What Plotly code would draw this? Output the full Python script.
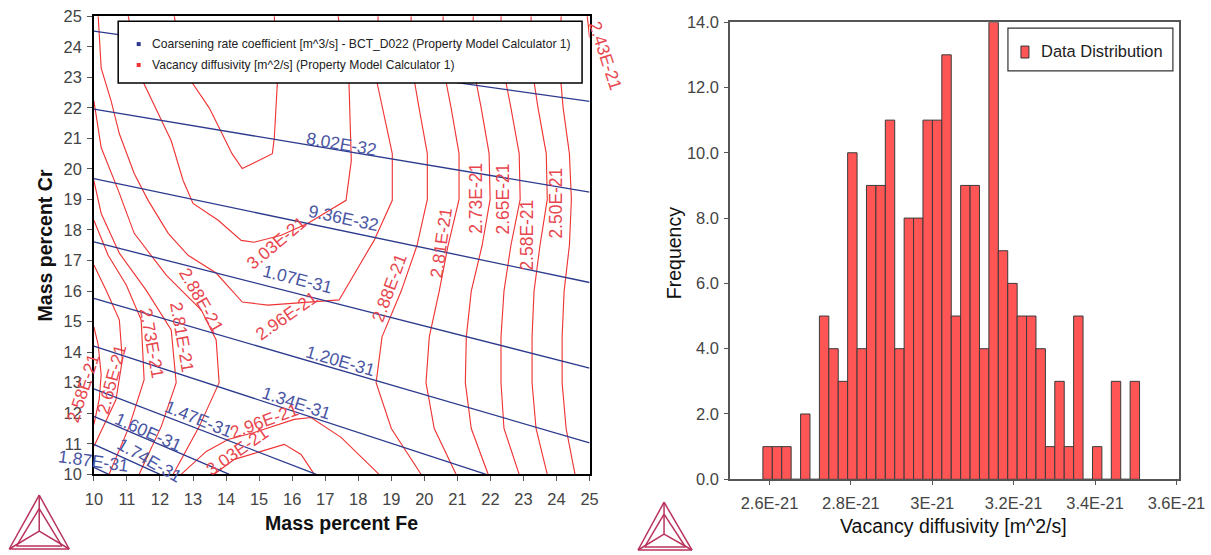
import plotly.graph_objects as go

# ---------------- DATA ----------------
# Left panel: Fe (x) vs Cr (y), mass percent
mass_ticks = list(range(10, 26))

# Coarsening rate coefficient contours [m^3/s] (blue)
b668_fe, b668_cr = [10, 25], [24.51, 22.21]
b802_fe, b802_cr = [10, 25], [21.96, 19.24]
b936_fe, b936_cr = [10, 25], [19.68, 16.28]
b107_fe, b107_cr = [10, 25], [17.61, 13.48]
b120_fe, b120_cr = [10, 25], [15.76, 11.03]
b134_fe, b134_cr = [10, 21.87], [14.20, 10.0]
b147_fe, b147_cr = [10, 16.73], [12.80, 10.0]
b160_fe, b160_cr = [10, 14.10], [11.90, 10.0]
b174_fe, b174_cr = [10, 12.00], [10.98, 10.0]
b187_fe, b187_cr = [10, 10.45], [10.23, 10.0]

# Vacancy diffusivity contours [m^2/s] (red)
grid_cr = [25, 23.5, 22, 20.5, 19, 17.5, 16, 14.5, 13, 11.5, 10]
r243_fe, r243_cr = [24.93, 25.0], [25.0, 24.3]
r250_fe = [24.14, 24.08, 24.20, 24.39, 24.45, 24.39, 24.23, 24.17, 24.17, 24.29, 24.56]
r258_fe = [23.23, 23.23, 23.44, 23.69, 23.72, 23.50, 23.32, 23.26, 23.26, 23.38, 23.72]
r265_fe = [22.32, 22.35, 22.62, 22.87, 22.90, 22.62, 22.41, 22.32, 22.32, 22.41, 22.87]
r273_fe = [21.48, 21.45, 21.72, 21.96, 21.99, 21.75, 21.42, 21.27, 21.24, 21.42, 21.93]
r281_fe = [20.57, 20.54, 20.81, 21.05, 21.05, 20.72, 20.45, 20.15, 20.05, 20.30, 20.96]
r288r_fe = [19.60, 19.60, 19.84, 20.09, 20.09, 19.78, 19.30, 18.72, 18.54, 19.00, 19.90]

r288l_fe = [10.0, 10.22, 10.74, 11.22, 12.19, 13.25, 13.70, 13.79, 13.19, 12.40]
r288l_cr = [22.23, 20.70, 19.29, 17.89, 16.52, 15.38, 14.40, 13.0, 11.57, 10.0]
r281l_fe = [10.0, 10.22, 10.77, 11.58, 12.34, 12.49, 12.04, 11.37]
r281l_cr = [19.62, 18.54, 17.24, 16.03, 14.73, 13.0, 11.57, 10.0]
r273l_fe = [10.0, 10.43, 10.98, 11.43, 11.52, 11.07, 10.46]
r273l_cr = [18.32, 17.17, 16.20, 15.06, 13.10, 11.57, 10.0]
r265l_fe = [10.0, 10.37, 10.77, 10.86, 10.67, 10.0]
r265l_cr = [16.85, 16.03, 15.06, 13.75, 12.45, 10.91]
r258l_fe = [10.0, 10.13, 10.22, 10.16, 10.0]
r258l_cr = [14.83, 14.24, 13.26, 12.45, 11.63]

r296u_fe = [10.13, 10.22, 10.52, 10.77, 11.22, 11.64, 12.25, 12.85, 13.70, 14.49, 15.27, 16.27, 17.42, 18.48, 19.03, 19.03, 18.57, 18.60]
r296u_cr = [25.0, 23.30, 22.23, 21.15, 19.85, 18.97, 17.89, 17.17, 16.59, 15.64, 15.54, 15.61, 15.71, 17.66, 18.97, 20.50, 22.82, 25.0]
r303u_fe = [11.04, 11.22, 11.52, 11.95, 12.34, 12.70, 13.0, 13.76, 14.46, 14.85, 15.67, 16.48, 17.63, 17.79, 17.72, 17.39]
r303u_cr = [25.0, 23.96, 22.78, 21.80, 20.92, 19.62, 18.87, 18.32, 17.66, 17.60, 17.83, 18.22, 18.97, 20.27, 22.78, 25.0]
r311v_fe = [12.43, 12.64, 13.0, 13.49, 13.88, 14.18, 14.49, 15.40, 15.46, 15.55, 15.46]
r311v_cr = [25.0, 23.86, 22.78, 22.0, 21.15, 20.50, 20.01, 20.50, 21.02, 22.78, 25.0]
r296d_fe = [12.64, 13.40, 14.06, 14.85, 16.06, 16.57, 17.48, 18.63]
r296d_cr = [10.0, 10.75, 11.14, 11.37, 11.80, 11.86, 11.21, 10.0]
r303d_fe = [13.64, 14.25, 15.06, 15.76, 16.27, 16.67]
r303d_cr = [10.0, 10.49, 10.75, 10.98, 10.65, 10.0]

# Contour labels (text, Fe, Cr, angle); labels beyond the axes are anchored at the edge and shifted (px)
blue_lbl_text = ["8.02E-32", "9.36E-32", "1.07E-31", "1.20E-31", "1.34E-31", "1.47E-31", "1.60E-31", "1.74E-31", "1.87E-31"]
blue_lbl_fe = [17.49, 17.54, 16.15, 17.46, 16.12, 13.16, 11.64, 11.67, 10.01]
blue_lbl_cr = [20.83, 18.38, 16.39, 13.72, 12.35, 11.80, 11.40, 10.46, 10.43]
blue_lbl_ang = [9.6, 12, 14, 16, 18, 22, 24, 30, 8]
blue_lbl_shift = [0, 0, 0, 0, 0, 0, 0, 0, -1]

red_lbl_text = ["2.50E-21", "2.58E-21", "2.65E-21", "2.73E-21", "2.81E-21", "2.88E-21", "2.96E-21", "3.03E-21",
                "2.43E-21", "2.88E-21", "2.81E-21", "2.73E-21", "2.65E-21", "2.58E-21", "2.96E-21", "3.03E-21"]
red_lbl_fe = [23.99, 23.12, 22.38, 21.54, 20.51, 18.94, 15.82, 15.52, 24.99, 13.25, 12.67, 11.76, 10.52, 10.01, 15.15, 14.34]
red_lbl_cr = [18.87, 17.83, 19.03, 19.03, 17.57, 16.10, 15.19, 17.57, 23.70, 15.71, 14.50, 14.31, 13.10, 12.84, 11.73, 10.75]
red_lbl_ang = [-90, -90, -90, -90, -82, -70, -35, -40, 72, 60, 80, 80, -75, -72, -20, -35]
red_lbl_shift = [0, 0, 0, 0, 0, 0, 0, 0, 16, 0, 0, 0, 0, -11, 0, 0]

# Right panel: histogram of vacancy diffusivity
hist_counts = [1, 1, 1, 0, 2, 0, 5, 4, 3, 10, 4, 9, 9, 11, 4, 8, 8, 11, 11, 13,
               5, 9, 9, 4, 14, 7, 6, 5, 5, 4, 1, 3, 1, 5, 0, 1, 0, 3, 0, 3]
hist_bin_start = 2.5838e-21
hist_bin_width = 2.3138e-23
diff_tick_vals = [2.6e-21, 2.8e-21, 3.0e-21, 3.2e-21, 3.4e-21, 3.6e-21]
diff_tick_text = ["2.6E-21", "2.8E-21", "3E-21", "3.2E-21", "3.4E-21", "3.6E-21"]
freq_ticks = [0, 2, 4, 6, 8, 10, 12, 14]

# ---------------- FIGURE ----------------
# The page is shown with an 8px body margin and photographed at ~0.972 scale;
# size the figure in CSS pixels so that the photographed result spans the full 1211x555.
S = 0.972
MARGIN = 8
W, H = round(1211 / S) - MARGIN, round(555 / S) - MARGIN
def px(x): return (x / S - MARGIN) / W
def py(y): return 1 - (y / S - MARGIN) / H
def fs(v): return v / S

FONT = "Liberation Sans, Arial, sans-serif"
BLUE, BLUE_TXT = "#2c3a8e", "#4a56a3"
RED, RED_TXT = "#f03333", "#e8464e"

fig = go.Figure()

blue_lines = [(b668_fe, b668_cr), (b802_fe, b802_cr), (b936_fe, b936_cr), (b107_fe, b107_cr),
              (b120_fe, b120_cr), (b134_fe, b134_cr), (b147_fe, b147_cr), (b160_fe, b160_cr),
              (b174_fe, b174_cr), (b187_fe, b187_cr)]
red_lines = [(r243_fe, r243_cr), (r250_fe, grid_cr), (r258_fe, grid_cr), (r265_fe, grid_cr),
             (r273_fe, grid_cr), (r281_fe, grid_cr), (r288r_fe, grid_cr),
             (r288l_fe, r288l_cr), (r281l_fe, r281l_cr), (r273l_fe, r273l_cr), (r265l_fe, r265l_cr),
             (r258l_fe, r258l_cr), (r296u_fe, r296u_cr), (r303u_fe, r303u_cr), (r311v_fe, r311v_cr),
             (r296d_fe, r296d_cr), (r303d_fe, r303d_cr)]

for fe, cr in red_lines:
    fig.add_trace(go.Scatter(x=fe, y=cr, mode="lines", line=dict(color=RED, width=fs(1.1)),
                             xaxis="x", yaxis="y", showlegend=False, hoverinfo="skip"))
for fe, cr in blue_lines:
    fig.add_trace(go.Scatter(x=fe, y=cr, mode="lines", line=dict(color=BLUE, width=fs(1.3)),
                             xaxis="x", yaxis="y", showlegend=False, hoverinfo="skip"))

centers = [hist_bin_start + hist_bin_width * (i + 0.5) for i in range(len(hist_counts))]
fig.add_trace(go.Bar(x=centers, y=hist_counts, width=hist_bin_width,
                     marker=dict(color="#ff5555", line=dict(color="#3a3a3a", width=1)),
                     xaxis="x2", yaxis="y2", showlegend=False, name="Data Distribution"))

annotations = []
for t, x, y, a, sh in zip(blue_lbl_text, blue_lbl_fe, blue_lbl_cr, blue_lbl_ang, blue_lbl_shift):
    annotations.append(dict(text=t, x=x, y=y, xref="x", yref="y", showarrow=False, textangle=a,
                            xshift=fs(sh), font=dict(family=FONT, size=fs(17), color=BLUE_TXT)))
for t, x, y, a, sh in zip(red_lbl_text, red_lbl_fe, red_lbl_cr, red_lbl_ang, red_lbl_shift):
    annotations.append(dict(text=t, x=x, y=y, xref="x", yref="y", showarrow=False, textangle=a,
                            xshift=fs(sh), font=dict(family=FONT, size=fs(17), color=RED_TXT)))

# Axis titles
annotations += [
    dict(text="<b>Mass percent Fe</b>", x=px(340), y=py(524), xref="paper", yref="paper", showarrow=False,
         xanchor="center", yanchor="middle", font=dict(family=FONT, size=fs(19), color="#111")),
    dict(text="<b>Mass percent Cr</b>", x=px(44), y=py(245), xref="paper", yref="paper", showarrow=False,
         xanchor="center", yanchor="middle", textangle=-90, font=dict(family=FONT, size=fs(19), color="#111")),
    dict(text="Frequency", x=px(673), y=py(253), xref="paper", yref="paper", showarrow=False,
         xanchor="center", yanchor="middle", textangle=-90, font=dict(family=FONT, size=fs(19), color="#111")),
    dict(text="Vacancy diffusivity [m^2/s]", x=px(953), y=py(527), xref="paper", yref="paper", showarrow=False,
         xanchor="center", yanchor="middle", font=dict(family=FONT, size=fs(19), color="#111")),
]

shapes = []
# Left legend box
shapes.append(dict(type="rect", xref="paper", yref="paper", x0=px(117), x1=px(581), y0=py(82), y1=py(20),
                   fillcolor="white", line=dict(color="black", width=1.5), layer="above"))
shapes.append(dict(type="rect", xref="paper", yref="paper", x0=px(135.5), x1=px(139.5), y0=py(45), y1=py(41),
                   fillcolor=BLUE, line=dict(width=0), layer="above"))
shapes.append(dict(type="rect", xref="paper", yref="paper", x0=px(135.5), x1=px(139.5), y0=py(66), y1=py(62),
                   fillcolor=RED, line=dict(width=0), layer="above"))
annotations += [
    dict(text="Coarsening rate coefficient [m^3/s] - BCT_D022 (Property Model Calculator 1)",
         x=px(149), y=py(43), xref="paper", yref="paper", xanchor="left", yanchor="middle", showarrow=False,
         font=dict(family=FONT, size=fs(11.8), color="#222")),
    dict(text="Vacancy diffusivity [m^2/s] (Property Model Calculator 1)",
         x=px(149), y=py(64), xref="paper", yref="paper", xanchor="left", yanchor="middle", showarrow=False,
         font=dict(family=FONT, size=fs(11.8), color="#222")),
]
# Right legend box
shapes.append(dict(type="rect", xref="paper", yref="paper", x0=px(1007), x1=px(1172), y0=py(70), y1=py(27),
                   fillcolor="white", line=dict(color="#333", width=1.2), layer="above"))
shapes.append(dict(type="rect", xref="paper", yref="paper", x0=px(1020), x1=px(1028), y0=py(57), y1=py(45),
                   fillcolor="#ff5555", line=dict(color="#333", width=1), layer="above"))
annotations.append(dict(text="Data Distribution", x=px(1038), y=py(50), xref="paper", yref="paper",
                        xanchor="left", yanchor="middle", showarrow=False,
                        font=dict(family=FONT, size=fs(16), color="#222")))

# Logos
def logo(ax, ay, blx, brx, by, cy):
    col = "#b8325c"
    segs = [((ax, ay), (blx, by)), ((blx, by), (brx, by)), ((brx, by), (ax, ay)),
            ((ax, ay), (ax, cy)), ((ax, cy), (blx, by)), ((ax, cy), (brx, by))]
    ix = (brx - blx) * 0.12
    segs += [((ax, ay + (by - ay) * 0.25), (blx + ix, by - 3)), ((blx + ix, by - 3), (brx - ix, by - 3)),
             ((brx - ix, by - 3), (ax, ay + (by - ay) * 0.25))]
    for (x0, y0), (x1, y1) in segs:
        shapes.append(dict(type="line", xref="paper", yref="paper", x0=px(x0), y0=py(y0), x1=px(x1), y1=py(y1),
                           line=dict(color=col, width=1.5)))

logo(38, 496, 8, 68, 550, 532)
logo(663, 503, 637, 691, 551, 535)

axis_common = dict(showgrid=False, zeroline=False, showline=True, mirror=True, ticks="outside",
                   tickfont=dict(family=FONT, size=fs(16), color="#444"))

fig.update_layout(
    width=W, height=H, autosize=False,
    margin=dict(l=0, r=0, t=0, b=0),
    paper_bgcolor="white", plot_bgcolor="white",
    showlegend=False,
    xaxis=dict(domain=[px(92.7), px(588.5)], range=[10, 25], tickvals=mass_ticks, anchor="y",
               linecolor="black", linewidth=1.5, ticklen=5, tickcolor="#555", ticklabelstandoff=4,
               **axis_common),
    yaxis=dict(domain=[py(475), py(15)], range=[10, 25], tickvals=mass_ticks, anchor="x",
               linecolor="black", linewidth=1.5, ticklen=5, tickcolor="#555", ticklabelstandoff=2,
               **axis_common),
    xaxis2=dict(domain=[px(729), px(1178)], range=[2.503e-21, 3.606e-21], tickvals=diff_tick_vals,
                ticktext=diff_tick_text, anchor="y2", linecolor="#555", linewidth=1.5, ticklen=4,
                tickcolor="#555", ticklabelstandoff=4, **axis_common),
    yaxis2=dict(domain=[py(480), py(21)], range=[0, 14], tickvals=freq_ticks, tickformat=".1f", anchor="x2",
                linecolor="#555", linewidth=1.5, ticklen=4, tickcolor="#555", ticklabelstandoff=2,
                **axis_common),
    annotations=annotations,
    shapes=shapes,
)

fig.write_html("out.html")
